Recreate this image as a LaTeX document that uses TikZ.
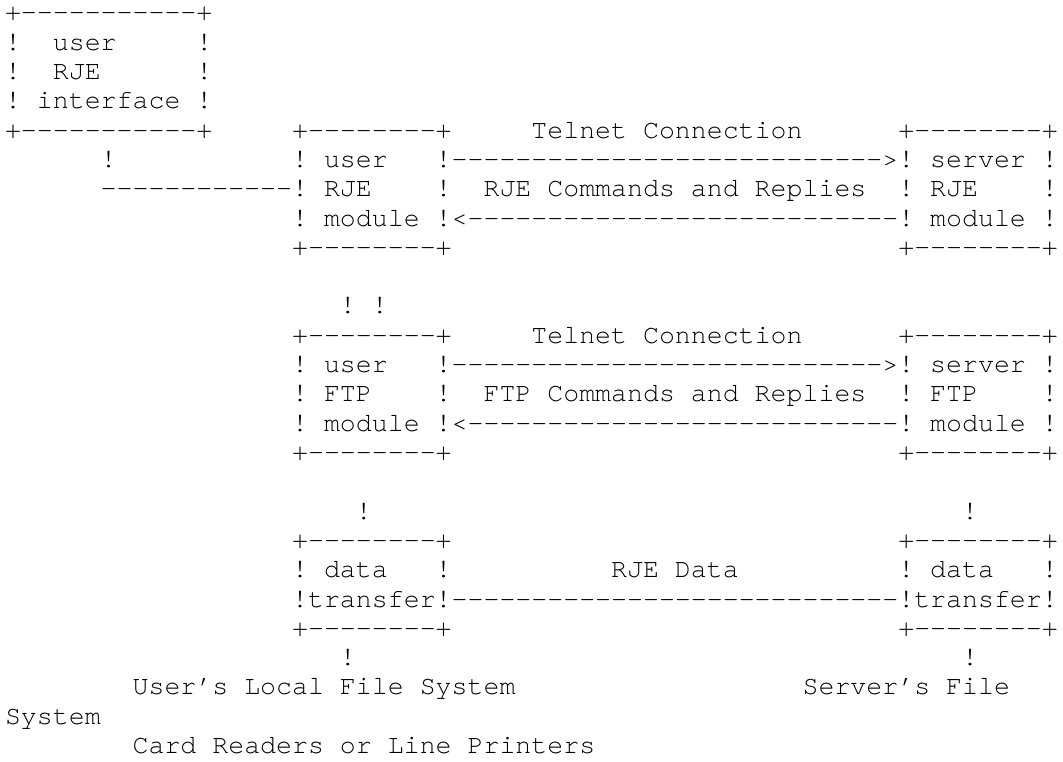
\documentclass[tikz,border=0pt]{standalone}
\usepackage{fontspec}
\setmonofont{texgyrecursor-regular.otf}
\tikzset{asc/.style={anchor=base west,inner sep=0pt,outer sep=0pt,
  font=\ttfamily\fontsize{19.94}{22}\selectfont\frenchspacing}}
\begin{document}
\begin{tikzpicture}
\useasboundingbox (0pt,0pt) rectangle (797.25pt,-571.5pt);
\begin{scope}[shift={(3.75pt,-15.75pt)},x=11.964pt,y=-21.975pt]
%Khung user RJE interface
\node[asc] (ifTop) at (0,0) {+-----------+};
\node[asc] (ifA) at (0,1) {!~~user~~~~~!};
\node[asc] (ifB) at (0,2) {!~~RJE~~~~~~!};
\node[asc] (ifC) at (0,3) {!~interface~!};
\node[asc] (ifBot) at (0,4) {+-----------+};
%RJE module
\node[asc] (rjeUTop) at (18,4) {+--------+};
\node[asc] (telA) at (33,4) {Telnet Connection};
\node[asc] (rjeSTop) at (56,4) {+--------+};
\node[asc] (ifLink) at (6,5) {!};
\node[asc] (rjeA) at (18,5) {!~user~~~!---------------------------\symbol{62}!~server~!};
\node[asc] (rjeB) at (6,6) {------------!~RJE~~~~!~~RJE Commands and Replies~~!~RJE~~~~!};
\node[asc] (rjeC) at (18,7) {!~module~!\symbol{60}---------------------------!~module~!};
\node[asc] (rjeUBot) at (18,8) {+--------+};
\node[asc] (rjeSBot) at (56,8) {+--------+};
%FTP module
\node[asc] (lnkA) at (21,10) {!};
\node[asc] (lnkB) at (23,10) {!};
\node[asc] (ftpUTop) at (18,11) {+--------+};
\node[asc] (telB) at (33,11) {Telnet Connection};
\node[asc] (ftpSTop) at (56,11) {+--------+};
\node[asc] (ftpA) at (18,12) {!~user~~~!---------------------------\symbol{62}!~server~!};
\node[asc] (ftpB) at (18,13) {!~FTP~~~~!~~FTP Commands and Replies~~!~FTP~~~~!};
\node[asc] (ftpC) at (18,14) {!~module~!\symbol{60}---------------------------!~module~!};
\node[asc] (ftpUBot) at (18,15) {+--------+};
\node[asc] (ftpSBot) at (56,15) {+--------+};
%Data transfer
\node[asc] (lnkC) at (22,17) {!};
\node[asc] (lnkD) at (60,17) {!};
\node[asc] (dtUTop) at (18,18) {+--------+};
\node[asc] (dtSTop) at (56,18) {+--------+};
\node[asc] (dtUA) at (18,19) {!~data~~~!};
\node[asc] (dtLbl) at (38,19) {RJE Data};
\node[asc] (dtSA) at (56,19) {!~data~~~!};
\node[asc] (dtB) at (18,20) {!transfer!----------------------------!transfer!};
\node[asc] (dtUBot) at (18,21) {+--------+};
\node[asc] (dtSBot) at (56,21) {+--------+};
%File systems
\node[asc] (lnkE) at (21,22) {!};
\node[asc] (lnkF) at (60,22) {!};
\node[asc] (fsU) at (8,23) {User’s Local File System};
\node[asc] (fsS) at (50,23) {Server’s File};
\node[asc] (fsS2) at (0,24) {System};
\node[asc] (cards) at (8,25) {Card Readers or Line Printers};
\end{scope}
\end{tikzpicture}
\end{document}
